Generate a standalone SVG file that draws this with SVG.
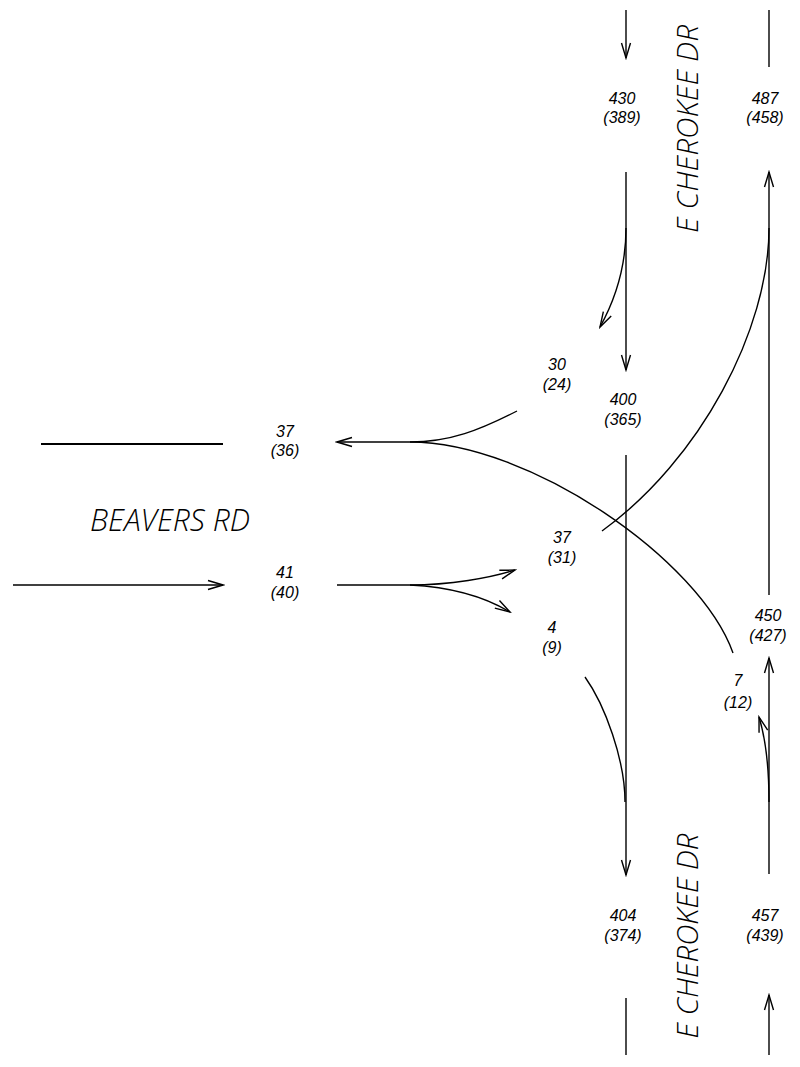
<svg xmlns="http://www.w3.org/2000/svg" width="800" height="1067" viewBox="0 0 800 1067">
<style>
.ln{fill:none;stroke:#000;stroke-width:1.4}
.ar{marker-end:url(#ah)}
.v{font-family:"Liberation Sans",Arial,sans-serif;font-style:italic;font-size:16px;fill:#000;text-anchor:middle}
.rd{font-family:"Open Sans","Liberation Sans",Arial,sans-serif;font-style:italic;font-weight:300;fill:#000;text-anchor:middle}
</style>
<defs>
<marker id="ah" markerUnits="userSpaceOnUse" viewBox="-16 -6 18 12" refX="0" refY="0" markerWidth="18" markerHeight="12" orient="auto">
<path d="M-15,-4.5 L0,0 L-15,4.5" fill="none" stroke="#000" stroke-width="1.4"/>
</marker>
</defs>
<rect width="800" height="1067" fill="#fff"/>
<g id="connectors">
<path class="ln ar" d="M626,10 L626,58"/>
<path class="ln ar" d="M626,172 L626,370"/>
<path class="ln ar" d="M626,228 C626,265 615,300 600,327"/>
<path class="ln ar" d="M626,455 L626,875"/>
<path class="ln" d="M626,998 L626,1055"/>
<path class="ln" d="M769,10 L769,67"/>
<path class="ln ar" d="M769,595 L769,172"/>
<path class="ln" d="M602,531 C700,460 769,330 769,228"/>
<path class="ln ar" d="M769,874 L769,658"/>
<path class="ln ar" d="M769,802 C769,770 766,740 759,717"/>
<path class="ln ar" d="M769,1055 L769,995"/>
<path class="ln" d="M41,444 L223,444" style="stroke-width:2.2"/>
<path class="ln ar" d="M410,442 L337,442"/>
<path class="ln" d="M517,411 C480,430 450,442 410,442"/>
<path class="ln" d="M733,653 C700,560 530,442 410,442"/>
<path class="ln ar" d="M13,585 L223,585"/>
<path class="ln" d="M337,585 L410,585"/>
<path class="ln ar" d="M410,585 C450,585 490,578 515,570"/>
<path class="ln ar" d="M410,585 C450,587 485,597 510,612"/>
<path class="ln" d="M585,677 C605,705 625,760 625,802"/>
</g>
<g id="street-names">
<text class="rd" font-size="31" x="170" y="531" textLength="160" lengthAdjust="spacingAndGlyphs">BEAVERS RD</text>
<text class="rd" font-size="29" transform="translate(698,129) rotate(-90)" textLength="208" lengthAdjust="spacingAndGlyphs">E CHEROKEE DR</text>
<text class="rd" font-size="29" transform="translate(698,936) rotate(-90)" textLength="205" lengthAdjust="spacingAndGlyphs">E CHEROKEE DR</text>
</g>
<g id="sb-approach"><text class="v" x="622" y="104">430</text><text class="v" x="622" y="123">(389)</text></g>
<g id="nb-depart"><text class="v" x="765" y="104">487</text><text class="v" x="765" y="123">(458)</text></g>
<g id="sb-right"><text class="v" x="557" y="370">30</text><text class="v" x="557" y="390">(24)</text></g>
<g id="sb-thru"><text class="v" x="623" y="405">400</text><text class="v" x="623" y="425">(365)</text></g>
<g id="wb-depart"><text class="v" x="285" y="437">37</text><text class="v" x="285" y="456">(36)</text></g>
<g id="eb-approach"><text class="v" x="285" y="578">41</text><text class="v" x="285" y="598">(40)</text></g>
<g id="eb-left"><text class="v" x="562" y="543">37</text><text class="v" x="562" y="563">(31)</text></g>
<g id="eb-right"><text class="v" x="552" y="633">4</text><text class="v" x="552" y="653">(9)</text></g>
<g id="nb-thru"><text class="v" x="768" y="621">450</text><text class="v" x="768" y="641">(427)</text></g>
<g id="nb-right"><text class="v" x="738" y="686">7</text><text class="v" x="738" y="708">(12)</text></g>
<g id="sb-depart"><text class="v" x="623" y="921">404</text><text class="v" x="623" y="941">(374)</text></g>
<g id="nb-approach"><text class="v" x="765" y="921">457</text><text class="v" x="765" y="941">(439)</text></g>
</svg>
